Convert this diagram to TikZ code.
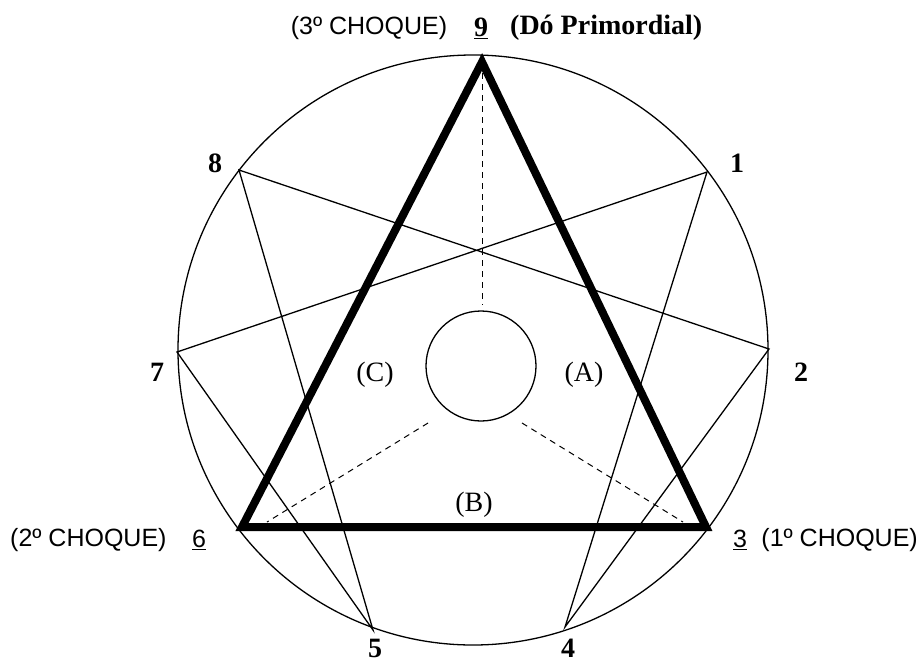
\documentclass[tikz,border=0pt]{standalone}
\usepackage{fontspec}
\setmainfont{Liberation Serif}
\setsansfont{Liberation Sans}
\usepackage{tikz}

\begin{document}
\begin{tikzpicture}[x=1pt,y=-1pt,line join=miter,
  thinline/.style={line width=1.3pt},
  thickline/.style={line width=8pt},
  dashline/.style={line width=1pt,dash pattern=on 6pt off 5pt},
  numlabel/.style={font=\fontsize{28}{30}\selectfont\bfseries,inner sep=0pt},
  sanslabel/.style={font=\fontsize{25}{28}\selectfont\sffamily,inner sep=0pt},
  letlabel/.style={font=\fontsize{28}{30}\selectfont,inner sep=0pt}]
\useasboundingbox (0,0) rectangle (920,662);
% points of the circle
\coordinate (c) at (473,350);
\coordinate (p9) at (482,62);
\coordinate (p1) at (707,172);
\coordinate (p2) at (769,349);
\coordinate (p3) at (706,527);
\coordinate (p4) at (565,627);
\coordinate (p5) at (373,630);
\coordinate (p6) at (242,527);
\coordinate (p7) at (177,352);
\coordinate (p8) at (239,170);
\draw[thinline] (c) circle (295);
% hexad
\draw[thinline] (p1) -- (p4) -- (p2) -- (p8) -- (p5) -- (p7) -- cycle;
% inner circle and dashed rays
\coordinate (m) at (481,366);
\draw[thinline] (m) circle (55);
\coordinate (mt) at (482,305);
\coordinate (ml) at (428,423);
\coordinate (mr) at (522,423);
\coordinate (d6) at (267,522);
\coordinate (d3) at (683,522);
\draw[dashline] (p9) -- (mt);
\draw[dashline] (ml) -- (d6);
\draw[dashline] (mr) -- (d3);
% triad
\draw[thickline] (p9) -- (p3) -- (p6) -- cycle;
% labels
\node[sanslabel] (ch3) at (369,28) {(3º CHOQUE)};
\node[numlabel] (n9) at (481,28) {\underline{9}};
\node[numlabel,anchor=west] (dp) at (510,28) {(Dó Primordial)};
\node[numlabel] (n8) at (215,163) {8};
\node[numlabel] (n1) at (737,163) {1};
\node[numlabel] (n7) at (157,372) {7};
\node[numlabel] (n2) at (801,372) {2};
\node[sanslabel,anchor=west] (ch2) at (10,540) {(2º CHOQUE)};
\node[sanslabel] (n6) at (199,540) {\underline{6}};
\node[sanslabel] (n3) at (740,540) {\underline{3}};
\node[sanslabel,anchor=east] (ch1) at (918,540) {(1º CHOQUE)};
\node[numlabel] (n5) at (375,648) {5};
\node[numlabel] (n4) at (568,648) {4};
\node[letlabel] (lc) at (375,375) {(C)};
\node[letlabel] (la) at (584,375) {(A)};
\node[letlabel] (lb) at (474,505) {(B)};
\end{tikzpicture}
\end{document}
